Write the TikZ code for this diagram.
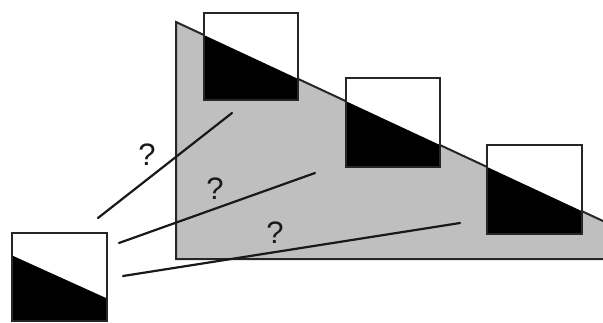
\documentclass[tikz,border=0pt]{standalone}
\usepackage{fontspec}
\setmainfont{Liberation Sans}
\begin{document}
\begin{tikzpicture}[x=1pt,y=-1pt,
  frame/.style={draw=black!85,line width=2pt},
  conn/.style={draw=black!90,line width=2.2pt,line cap=round},
  qmark/.style={font=\fontsize{31}{31}\selectfont,inner sep=0pt,text=black!90}]
\useasboundingbox (0,0) rectangle (603,322);
% gray triangle
\coordinate (T1) at (176,22);
\coordinate (T2) at (603,221);
\coordinate (T3) at (603,259);
\coordinate (T4) at (176,259);
\fill[black!25] (T1) -- (T2) -- (T3) -- (T4) -- cycle;
\draw[black!85,line width=2pt] (T2) -- (T1) -- (T4) -- (T3);
% squares on the triangle
\foreach \n/\xa/\ya/\xb/\yb in {A/203/12/297/99, B/345/77/439/166, C/486/144/581/233}{
  \begin{scope}
    \clip (\xa,\ya) rectangle (\xb,\yb);
    \fill[white] (\xa,\ya) rectangle (\xb,\yb);
    \fill[black] (T1) -- (T2) -- (603,322) -- (176,322) -- cycle;
  \end{scope}
  \node[frame,minimum width=\xb-\xa,minimum height=\yb-\ya,inner sep=0pt,anchor=north west] (\n) at (\xa,\ya) {};
}
% small square
\begin{scope}
  \clip (11,232) rectangle (106,320);
  \fill[black] (11,255) -- (106,298) -- (106,322) -- (11,322) -- cycle;
\end{scope}
\node[frame,minimum width=95,minimum height=88,inner sep=0pt,anchor=north west] (S) at (11,232) {};
% connectors
\coordinate (s1) at (98,218);
\coordinate (e1) at (232,113);
\coordinate (s2) at (119,243);
\coordinate (e2) at (315,173);
\coordinate (s3) at (123,276);
\coordinate (e3) at (460,223);
\draw[conn] (s1) -- (e1);
\draw[conn] (s2) -- (e2);
\draw[conn] (s3) -- (e3);
% question marks
\node[qmark] (q1) at (147,155) {?};
\node[qmark] (q2) at (215,189) {?};
\node[qmark] (q3) at (275,233) {?};
\end{tikzpicture}
\end{document}
